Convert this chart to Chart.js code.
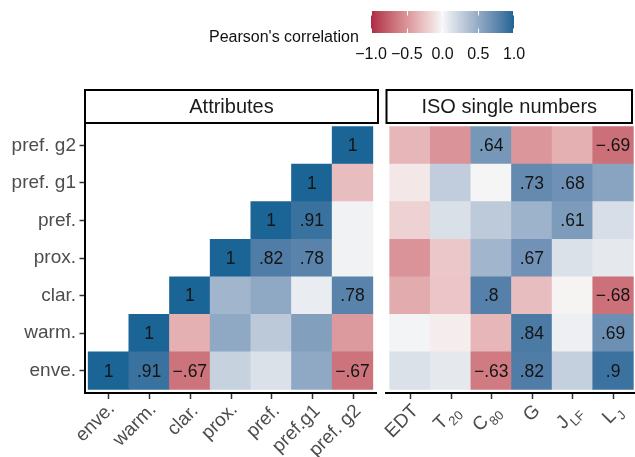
<!DOCTYPE html>
<html>
<head>
<meta charset="utf-8">
<script src="https://cdn.jsdelivr.net/npm/chart.js@4/dist/chart.umd.min.js"></script>
<style>
  html, body { margin: 0; padding: 0; background: #fff; }
  #wrap { position: relative; width: 635px; height: 457px; overflow: hidden;
          font-family: "Liberation Sans", Arial, Helvetica, sans-serif; }
  #left  { position: absolute; left: 0; top: 0; }
  #right { position: absolute; left: 380px; top: 0; }
  #legTitle { position: absolute; left: 209px; top: 28px; font-size: 16px; line-height: 18px; color: #111; white-space: nowrap; }
  #legBar { position: absolute; left: 371px; top: 11px; }
  .legTick { position: absolute; top: 45px; font-size: 16px; line-height: 18px; color: #111; white-space: nowrap; transform: translateX(-50%); }
</style>
</head>
<body>
<div id="wrap">
  <canvas id="left" width="380" height="457"></canvas>
  <canvas id="right" width="255" height="457"></canvas>
  <div id="legTitle">Pearson's correlation</div>
  <canvas id="legBar" width="143" height="22"></canvas>
</div>
<script>
// ---- categories ----
const attrX     = ['enve.', 'warm.', 'clar.', 'prox.', 'pref.', 'pref.g1', 'pref. g2'];
const rowLabels = ['enve.', 'warm.', 'clar.', 'prox.', 'pref.', 'pref. g1', 'pref. g2'];
const isoMain   = ['EDT', 'T', 'C', 'G', 'J', 'L'];
const isoSub    = ['', '20', '80', '', 'LF', 'J'];

// ---- attribute x attribute correlations (one array per row, null = not shown) ----
const rEnve   = [1, 0.91, -0.67, 0.24, 0.14, 0.52, -0.67];
const rWarm   = [null, 1, -0.36, 0.52, 0.30, 0.58, -0.47];
const rClar   = [null, null, 1, 0.43, 0.52, 0.07, 0.78];
const rProx   = [null, null, null, 1, 0.82, 0.78, 0.03];
const rPref   = [null, null, null, null, 1, 0.91, 0.03];
const rPrefG1 = [null, null, null, null, null, 1, -0.29];
const rPrefG2 = [null, null, null, null, null, null, 1];

// ---- attribute x ISO single-number correlations ----
const iEnve   = [0.14, 0.09, -0.63, 0.82, 0.25, 0.9];
const iWarm   = [0.02, -0.05, -0.33, 0.84, 0.05, 0.69];
const iClar   = [-0.38, -0.25, 0.8, -0.29, -0.02, -0.68];
const iProx   = [-0.5, -0.24, 0.43, 0.67, 0.14, 0.09];
const iPref   = [-0.19, 0.15, 0.29, 0.45, 0.61, 0.16];
const iPrefG1 = [-0.08, 0.27, 0.01, 0.73, 0.68, 0.55];
const iPrefG2 = [-0.33, -0.5, 0.64, -0.49, -0.36, -0.69];

// ---- colour legend ----
const legendBreaks = [-1, -0.5, 0, 0.5, 1];
const legendLabels = ['\u22121.0', '\u22120.5', '0.0', '0.5', '1.0'];

const attrRows = [rEnve, rWarm, rClar, rProx, rPref, rPrefG1, rPrefG2];
const isoRows  = [iEnve, iWarm, iClar, iProx, iPref, iPrefG1, iPrefG2];

const FONT = '"Liberation Sans", Arial, Helvetica, sans-serif';
const LOW = '#AD2A45', MID = '#F7F7F7', HIGH = '#1B6596';

// ---- diverging fill interpolated in CIELAB ----
function hex2rgb(h) { const n = parseInt(h.slice(1), 16); return [(n >> 16) & 255, (n >> 8) & 255, n & 255]; }
function lin(c) { c /= 255; return c <= 0.04045 ? c / 12.92 : Math.pow((c + 0.055) / 1.055, 2.4); }
function unlin(c) { const v = c <= 0.0031308 ? 12.92 * c : 1.055 * Math.pow(c, 1 / 2.4) - 0.055; return Math.round(Math.max(0, Math.min(1, v)) * 255); }
const WX = 0.95047, WY = 1, WZ = 1.08883;
function rgb2lab(rgb) {
  const r = lin(rgb[0]), g = lin(rgb[1]), b = lin(rgb[2]);
  const X = (0.4124 * r + 0.3576 * g + 0.1805 * b) / WX;
  const Y = (0.2126 * r + 0.7152 * g + 0.0722 * b) / WY;
  const Z = (0.0193 * r + 0.1192 * g + 0.9505 * b) / WZ;
  const f = t => t > 0.008856 ? Math.cbrt(t) : 7.787 * t + 16 / 116;
  const fx = f(X), fy = f(Y), fz = f(Z);
  return [116 * fy - 16, 500 * (fx - fy), 200 * (fy - fz)];
}
function lab2rgb(lab) {
  const fy = (lab[0] + 16) / 116, fx = fy + lab[1] / 500, fz = fy - lab[2] / 200;
  const fi = t => t * t * t > 0.008856 ? t * t * t : (t - 16 / 116) / 7.787;
  const X = fi(fx) * WX, Y = fi(fy) * WY, Z = fi(fz) * WZ;
  const r = 3.2406 * X - 1.5372 * Y - 0.4986 * Z;
  const g = -0.9689 * X + 1.8758 * Y + 0.0415 * Z;
  const b = 0.0557 * X - 0.2040 * Y + 1.0570 * Z;
  return [unlin(r), unlin(g), unlin(b)];
}
const labLow = rgb2lab(hex2rgb(LOW)), labMid = rgb2lab(hex2rgb(MID)), labHigh = rgb2lab(hex2rgb(HIGH));
function fillFor(v) {
  const t = Math.min(1, Math.abs(v));
  const end = v < 0 ? labLow : labHigh;
  const lab = labMid.map((m, k) => m + (end[k] - m) * t);
  const c = lab2rgb(lab);
  return `rgb(${c[0]},${c[1]},${c[2]})`;
}

function fmt(v) {
  if (v === 1) return '1';
  const s = Math.abs(v).toFixed(2).replace(/0+$/, '').replace(/^0/, '');
  return (v < 0 ? '\u2212' : '') + s;
}

function makeDatasets(rows) {
  return rows.map((row, i) => {
    const pts = [], cols = [];
    row.forEach((v, j) => {
      if (v !== null) { pts.push({ x: j, y: [i - 0.5, i + 0.5], v: v }); cols.push(fillFor(v)); }
    });
    return { data: pts, backgroundColor: cols, borderWidth: 0, grouped: false,
             barPercentage: 1, categoryPercentage: 1 };
  });
}

// value labels on the stronger correlations
const cellLabels = {
  id: 'cellLabels',
  afterDatasetsDraw(chart) {
    const { ctx, scales: { x, y } } = chart;
    ctx.save();
    ctx.font = '17.5px ' + FONT;
    ctx.fillStyle = '#141414';
    ctx.textAlign = 'center';
    ctx.textBaseline = 'middle';
    chart.data.datasets.forEach(ds => ds.data.forEach(p => {
      if (Math.abs(p.v) >= 0.6) {
        ctx.fillText(fmt(p.v), x.getPixelForValue(p.x), y.getPixelForValue((p.y[0] + p.y[1]) / 2) + 1);
      }
    }));
    ctx.restore();
  }
};

// facet strip above each panel
const strip = {
  id: 'strip',
  afterDraw(chart, args, opts) {
    const { ctx, chartArea } = chart;
    const x0 = chartArea.left + 0.5, x1 = opts.right != null ? opts.right : chartArea.right + 1.5;
    const y0 = 90, y1 = 123;
    ctx.save();
    ctx.strokeStyle = '#000';
    ctx.lineWidth = 2;
    ctx.strokeRect(x0, y0, x1 - x0, y1 - y0);
    ctx.fillStyle = '#1a1a1a';
    ctx.font = '20px ' + FONT;
    ctx.textAlign = 'center';
    ctx.textBaseline = 'middle';
    ctx.fillText(opts.text, (x0 + x1) / 2, (y0 + y1) / 2 + 1);
    ctx.restore();
  }
};

// x tick marks and rotated x labels, with optional subscripts
const xLabels = {
  id: 'xLabels',
  afterDraw(chart, args, opts) {
    const { ctx, chartArea, scales: { x } } = chart;
    const mains = opts.mains, subs = opts.subs || [];
    const MF = '19px ' + FONT, SF = '13px ' + FONT;
    ctx.save();
    ctx.strokeStyle = '#333';
    ctx.lineWidth = 1.5;
    mains.forEach((m, j) => {
      const px = Math.round(x.getPixelForValue(j)) + 0.5;
      ctx.beginPath();
      ctx.moveTo(px, chartArea.bottom + 1);
      ctx.lineTo(px, chartArea.bottom + 6);
      ctx.stroke();
    });
    ctx.fillStyle = '#4d4d4d';
    mains.forEach((m, j) => {
      const s = subs[j] || '';
      ctx.font = MF;
      const mm = ctx.measureText(m);
      const wm = mm.width, asc = mm.actualBoundingBoxAscent;
      ctx.font = SF;
      const ws = s ? ctx.measureText(s).width + 1 : 0;
      ctx.save();
      ctx.translate(x.getPixelForValue(j), chartArea.bottom + 9.5);
      ctx.rotate(-Math.PI / 4);
      ctx.textAlign = 'left';
      ctx.textBaseline = 'alphabetic';
      ctx.font = MF;
      ctx.fillText(m, -(wm + ws), asc);
      if (s) { ctx.font = SF; ctx.fillText(s, -ws + 1, asc + 6); }
      ctx.restore();
    });
    ctx.restore();
  }
};

const intTicks = n => s => { s.ticks = Array.from({ length: n }, (_, k) => ({ value: k })); };

function axisX(min, max, n) {
  return {
    type: 'linear', min: min, max: max, offset: false,
    afterBuildTicks: intTicks(n),
    afterFit: s => { s.height = 64; },
    ticks: { display: false, autoSkip: false },
    grid: { display: false },
    border: { display: true, color: '#000', width: 2 }
  };
}

const Y_MIN = -0.594, Y_MAX = 6.594;

new Chart(document.getElementById('left'), {
  type: 'bar',
  data: { datasets: makeDatasets(attrRows) },
  options: {
    responsive: false, animation: false, devicePixelRatio: 1, events: [],
    layout: { padding: { top: 123, right: 3.5, left: 0, bottom: 0 } },
    scales: {
      x: axisX(-0.59, 6.59, attrX.length),
      y: {
        type: 'linear', min: Y_MIN, max: Y_MAX, offset: false,
        afterBuildTicks: intTicks(rowLabels.length),
        afterFit: s => { s.width = 84.5; },
        ticks: { autoSkip: false, padding: 3.5, color: '#4d4d4d', font: { family: FONT, size: 19 },
                 callback: v => rowLabels[v] },
        grid: { drawOnChartArea: false, drawTicks: true, tickLength: 5, tickColor: '#333', tickWidth: 1.5 },
        border: { display: true, color: '#000', width: 2 }
      }
    },
    plugins: {
      legend: { display: false }, tooltip: { enabled: false },
      strip: { text: 'Attributes' },
      xLabels: { mains: attrX }
    }
  },
  plugins: [cellLabels, strip, xLabels]
});

new Chart(document.getElementById('right'), {
  type: 'bar',
  data: { datasets: makeDatasets(isoRows) },
  options: {
    responsive: false, animation: false, devicePixelRatio: 1, events: [],
    layout: { padding: { top: 123, right: 0, left: 6, bottom: 0 } },
    scales: {
      x: axisX(-0.59, 5.54, isoMain.length),
      y: { type: 'linear', display: false, min: Y_MIN, max: Y_MAX }
    },
    plugins: {
      legend: { display: false }, tooltip: { enabled: false },
      strip: { text: 'ISO single numbers', right: 252 },
      xLabels: { mains: isoMain, subs: isoSub }
    }
  },
  plugins: [cellLabels, strip, xLabels]
});

// ---- colour bar ----
(function () {
  const cv = document.getElementById('legBar');
  const ctx = cv.getContext('2d');
  const W = cv.width, H = cv.height;
  for (let px = 0; px < W; px++) {
    const v = -1 + 2 * (px + 0.5) / W;
    ctx.fillStyle = fillFor(v);
    ctx.fillRect(px, 0, 1, H);
  }
  ctx.strokeStyle = '#fff';
  ctx.lineWidth = 1;
  legendBreaks.forEach(b => {
    const px = Math.round((b + 1) / 2 * (W - 1)) + 0.5;
    ctx.beginPath();
    ctx.moveTo(px, 0); ctx.lineTo(px, 4.5);
    ctx.moveTo(px, H - 4.5); ctx.lineTo(px, H);
    ctx.stroke();
  });
  const wrap = document.getElementById('wrap');
  legendBreaks.forEach((b, k) => {
    const d = document.createElement('div');
    d.className = 'legTick';
    d.style.left = (371 + (b + 1) / 2 * W) + 'px';
    d.textContent = legendLabels[k];
    wrap.appendChild(d);
  });
})();
</script>
</body>
</html>
